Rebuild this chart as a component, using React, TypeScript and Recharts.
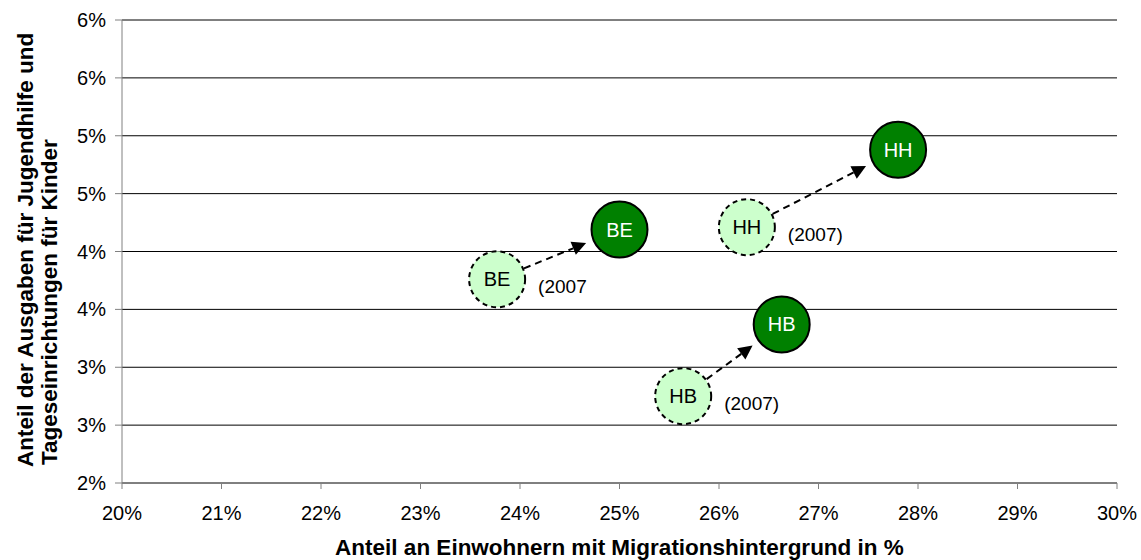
import React from 'react';
import {
  ScatterChart,
  Scatter,
  XAxis,
  YAxis,
  CartesianGrid,
  ReferenceLine,
} from 'recharts';

// Bundeslaender (Stadtstaaten)
const STATES = ['BE', 'HH', 'HB'];
const YEAR_LABELS = ['(2007', '(2007)', '(2007)'];

// 2007 values
const MIGRATION_2007 = [23.77, 26.28, 25.64];
const SPENDING_2007 = [3.76, 4.21, 2.75];

// current values
const MIGRATION_NOW = [25.0, 27.8, 26.63];
const SPENDING_NOW = [4.19, 4.88, 3.37];

const X_TICKS = [20, 21, 22, 23, 24, 25, 26, 27, 28, 29, 30];
const Y_TICKS = [2, 2.5, 3, 3.5, 4, 4.5, 5, 5.5, 6];
const Y_TICK_LABELS = ['2%', '3%', '3%', '4%', '4%', '5%', '5%', '6%', '6%'];

const FONT = '"Liberation Sans", Arial, sans-serif';
const R = 28;

const oldData = STATES.map((s, i) => ({
  state: s,
  label: YEAR_LABELS[i],
  x: MIGRATION_2007[i],
  y: SPENDING_2007[i],
}));

const nowData = STATES.map((s, i) => ({
  state: s,
  x: MIGRATION_NOW[i],
  y: SPENDING_NOW[i],
}));

const OldBubble = (props: any) => {
  const { cx, cy, payload } = props;
  return (
    <g>
      <circle cx={cx} cy={cy} r={R} fill="#ccffcc" stroke="#000" strokeWidth={2} strokeDasharray="5 4" />
      <text x={cx} y={cy} textAnchor="middle" dominantBaseline="central" fontSize={20} fontFamily={FONT} fill="#000">
        {payload.state}
      </text>
      <text x={cx + 41} y={cy + 14} fontSize={19} fontFamily={FONT} fill="#000">
        {payload.label}
      </text>
    </g>
  );
};

const NowBubble = (props: any) => {
  const { cx, cy, payload } = props;
  return (
    <g>
      <circle cx={cx} cy={cy} r={R} fill="#008000" stroke="#000" strokeWidth={2} />
      <text x={cx} y={cy} textAnchor="middle" dominantBaseline="central" fontSize={20} fontFamily={FONT} fill="#fff">
        {payload.state}
      </text>
    </g>
  );
};

// dashed arrow from edge of old bubble towards new bubble
const Arrow = (props: any) => {
  const { x1, y1, x2, y2 } = props;
  const dx = x2 - x1;
  const dy = y2 - y1;
  const len = Math.sqrt(dx * dx + dy * dy);
  const ux = dx / len;
  const uy = dy / len;
  const sx = x1 + ux * (R + 1);
  const sy = y1 + uy * (R + 1);
  const tx = x2 - ux * (R + 8);
  const ty = y2 - uy * (R + 8);
  const headLen = 14;
  const headW = 7;
  const bx = tx - ux * headLen;
  const by = ty - uy * headLen;
  const pts = `${tx},${ty} ${bx - uy * headW},${by + ux * headW} ${bx + uy * headW},${by - ux * headW}`;
  return (
    <g>
      <line x1={sx} y1={sy} x2={bx} y2={by} stroke="#000" strokeWidth={2} strokeDasharray="7 5" />
      <polygon points={pts} fill="#000" />
    </g>
  );
};

const XTitle = (props: any) => {
  const { viewBox } = props;
  return (
    <text
      x={viewBox.x + viewBox.width / 2}
      y={viewBox.y + 72}
      textAnchor="middle"
      fontSize={22.5}
      fontWeight="bold"
      fontFamily={FONT}
      fill="#000"
    >
      Anteil an Einwohnern mit Migrationshintergrund in %
    </text>
  );
};

const YTitle = () => (
  <g fontSize={22.5} fontWeight="bold" fontFamily={FONT} fill="#000">
    <text x={25} y={467} transform="rotate(-90 25 467)" dominantBaseline="central">
      Anteil der Ausgaben für Jugendhilfe und
    </text>
    <text x={49} y={465} transform="rotate(-90 49 465)" dominantBaseline="central">
      Tageseinrichtungen für Kinder
    </text>
  </g>
);

export default function App() {
  return (
    <div style={{ position: 'absolute', left: 0, top: 0, background: '#fff' }}>
      <ScatterChart width={1141} height={560} margin={{ top: 20, right: 24, left: 0, bottom: 0 }}>
        <CartesianGrid vertical={false} stroke="#000" strokeWidth={1} />
        <XAxis
          type="number"
          dataKey="x"
          domain={[20, 30]}
          ticks={X_TICKS}
          tickFormatter={(v: number) => `${v}%`}
          height={77}
          stroke="#808080"
          tickSize={6}
          tickMargin={17}
          tick={{ fill: '#000', fontSize: 20, fontFamily: FONT }}
          label={<XTitle />}
        />
        <YAxis
          type="number"
          dataKey="y"
          domain={[2, 6]}
          ticks={Y_TICKS}
          tickFormatter={(v: number) => Y_TICK_LABELS[Y_TICKS.indexOf(v)]}
          width={122}
          stroke="#808080"
          tickSize={7}
          tickMargin={9}
          tick={{ fill: '#000', fontSize: 20, fontFamily: FONT }}
          label={<YTitle />}
        />
        {STATES.map((s, i) => (
          <ReferenceLine
            key={s}
            segment={[
              { x: MIGRATION_2007[i], y: SPENDING_2007[i] },
              { x: MIGRATION_NOW[i], y: SPENDING_NOW[i] },
            ]}
            ifOverflow="visible"
            shape={<Arrow />}
          />
        ))}
        <Scatter data={oldData} shape={<OldBubble />} isAnimationActive={false} />
        <Scatter data={nowData} shape={<NowBubble />} isAnimationActive={false} />
      </ScatterChart>
    </div>
  );
}
